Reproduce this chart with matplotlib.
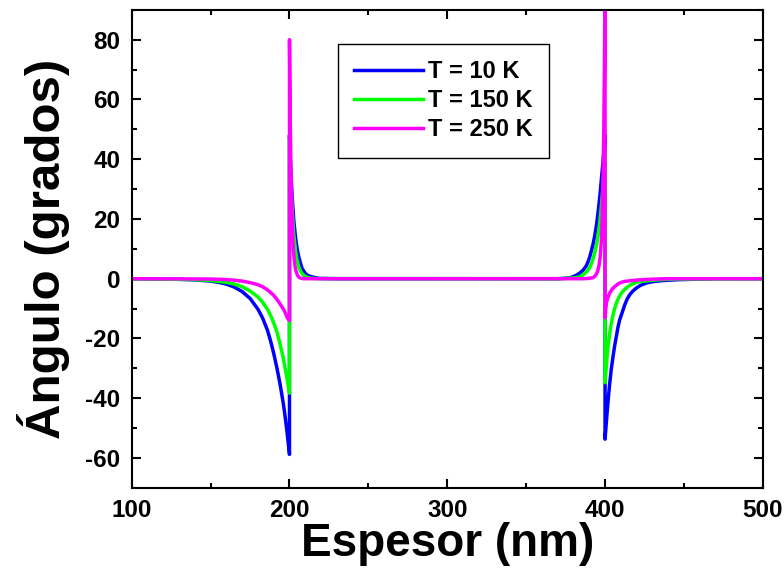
import matplotlib
matplotlib.use("Agg")
import matplotlib.pyplot as plt
from matplotlib.ticker import MultipleLocator

plt.rcParams['font.family'] = ['Liberation Sans', 'DejaVu Sans']
plt.rcParams['font.weight'] = 'bold'
plt.rcParams['axes.unicode_minus'] = False

# T = 10 K  (thickness in nm / angle in degrees)
x_10k = [100, 130, 140, 150, 155, 160, 165, 170, 175, 180, 183, 186, 188, 190, 192, 194, 196, 197, 198, 199, 200,
         200, 200.8, 201.7, 202.7, 203.8, 204.8, 205.9, 207, 208, 210.1, 212, 214.4, 218.6, 230,
         370, 375, 377.6, 380, 381.9, 384, 386, 388, 389.2, 390.3, 391.4, 392.5, 393.5, 394.6, 395.6, 396.7,
         397.7, 398.5, 399.2, 400,
         400, 401.3, 402, 403, 404, 405.1, 406.1, 407.2, 408.2, 409.3, 410.8, 412.5, 414, 415.7, 417.7, 419.9,
         422.5, 426.3, 430, 434.7, 440, 447.4, 470, 500]
y_10k = [0, -0.2, -0.4, -0.8, -1.2, -1.8, -2.8, -4.3, -6.6, -10.2, -13.2, -17.2, -20.8, -25, -29.8, -35.2, -41.5,
         -45.2, -49.4, -54, -58.8,
         48, 36.5, 27.3, 19.6, 13.9, 10.1, 7.3, 5.1, 3.4, 1.7, 1.0, 0.6, 0.1, 0,
         0, 0.15, 0.3, 0.7, 1.2, 1.9, 2.8, 4.2, 5.6, 7.3, 9.5, 11.8, 14.5, 18.1, 22.3, 27.6,
         33.4, 38, 42.3, 48,
         -53.7, -44.8, -40.4, -34.8, -30, -25.9, -22.4, -19.2, -16.2, -13.7, -11.4, -8.7, -6.8, -5.3, -4.1, -3.1,
         -2.2, -1.4, -1.0, -0.7, -0.5, -0.3, 0, 0]

# T = 150 K
x_150k = [100, 140, 150, 160, 165, 170, 175, 180, 183, 186, 188, 190, 192, 194, 196, 197, 198, 199, 200,
          200, 200.8, 201.7, 202.7, 203.8, 204.8, 205.9, 207, 208, 210, 212.3, 216,
          370, 375, 380, 384, 386, 388.2, 390, 391.4, 392.5, 393.5, 394.6, 395.6, 396.7, 397.7, 398.5, 399.2, 400,
          400, 401.3, 402, 403, 404, 405.1, 406.1, 407.2, 408.7, 410.4, 412.4, 414.6, 417, 419.9, 423.5, 428.4,
          435, 445, 500]
y_150k = [0, -0.3, -0.6, -1.2, -1.8, -2.7, -4.1, -6.1, -7.9, -10.2, -12.3, -14.8, -17.8, -21.8, -26.4, -29.2,
          -32, -35.2, -38.3,
          46, 33, 22.8, 14.8, 9.5, 6.1, 3.9, 2.5, 1.7, 0.7, 0.3, 0.05,
          0, 0.1, 0.25, 0.6, 1.3, 2.3, 3.5, 5.1, 6.8, 8.9, 11.3, 14.5, 19, 24.5, 29.5, 35, 43,
          -34.8, -25.9, -22, -18.1, -14.8, -12, -10, -8.1, -6.3, -4.8, -3.6, -2.6, -1.8, -1.2, -0.9, -0.6,
          -0.3, -0.1, 0]

# T = 250 K
x_250k = [100, 150, 160, 165, 170, 175, 180, 183, 186, 188, 190, 192, 194, 196, 197, 198, 199, 200,
          200, 200.4, 200.8, 201.2, 201.6, 202, 202.5, 203, 203.5, 204, 205, 206, 207, 209,
          385, 388, 390, 392.4, 393.5, 394.6, 395.5, 396.2, 397, 397.7, 398.2, 398.7, 399.2, 399.6, 400,
          400, 400.4, 400.9, 401.5, 402.2, 403, 404.5, 406.2, 408, 410.4, 412.5, 415.7, 419, 424.1, 430, 440, 500]
y_250k = [0, -0.1, -0.3, -0.5, -0.8, -1.3, -2.0, -2.7, -3.7, -4.6, -5.6, -6.9, -8.4, -10.1, -11, -12.3, -13.4, -14,
          80, 57, 40, 29, 20.5, 14.5, 9.5, 6.4, 4.2, 2.8, 1.2, 0.5, 0.2, 0,
          0, 0.05, 0.12, 0.35, 0.8, 1.6, 2.9, 4.5, 7.6, 13, 20.5, 33, 50, 70, 100,
          -13.1, -10.5, -8.1, -6.8, -5.7, -4.8, -3.5, -2.6, -1.8, -1.2, -0.9, -0.7, -0.5, -0.3, -0.15, 0, 0]

fig = plt.figure(figsize=(7.84, 5.76), dpi=100)
ax = fig.add_axes([0.168, 0.153, 0.805, 0.83])

ax.plot(x_10k, y_10k, color='#0000ff', linewidth=2.5, label='T = 10 K')
ax.plot(x_150k, y_150k, color='#00ff00', linewidth=2.5, label='T = 150 K')
ax.plot(x_250k, y_250k, color='#ff00ff', linewidth=2.5, label='T = 250 K')

ax.set_xlim(100, 500)
ax.set_ylim(-70, 90)
ax.xaxis.set_major_locator(MultipleLocator(100))
ax.xaxis.set_minor_locator(MultipleLocator(50))
ax.yaxis.set_minor_locator(MultipleLocator(10))
ax.set_yticks([-60, -40, -20, 0, 20, 40, 60, 80])

ax.tick_params(which='both', direction='in', top=True, right=True, width=1.5,
               labelsize=17.5, pad=8)
ax.tick_params(which='major', length=6.5)
ax.tick_params(which='minor', length=3.5)
for s in ax.spines.values():
    s.set_linewidth(1.5)

ax.set_xlabel("Espesor (nm)", fontsize=33, fontweight='bold', labelpad=0)
ax.set_ylabel("Ángulo (grados)", fontsize=35.5, fontweight='bold', labelpad=11)

leg = ax.legend(loc='upper left', bbox_to_anchor=(0.431, 0.924), bbox_transform=fig.transFigure,
                borderaxespad=0, fontsize=17, handlelength=2.9, handletextpad=0.2,
                labelspacing=0.25, borderpad=0.7, fancybox=False, framealpha=1,
                edgecolor='black')
leg.get_frame().set_linewidth(1.0)
for line in leg.get_lines():
    line.set_linewidth(2.5)

fig.savefig("out.png", dpi=100)
